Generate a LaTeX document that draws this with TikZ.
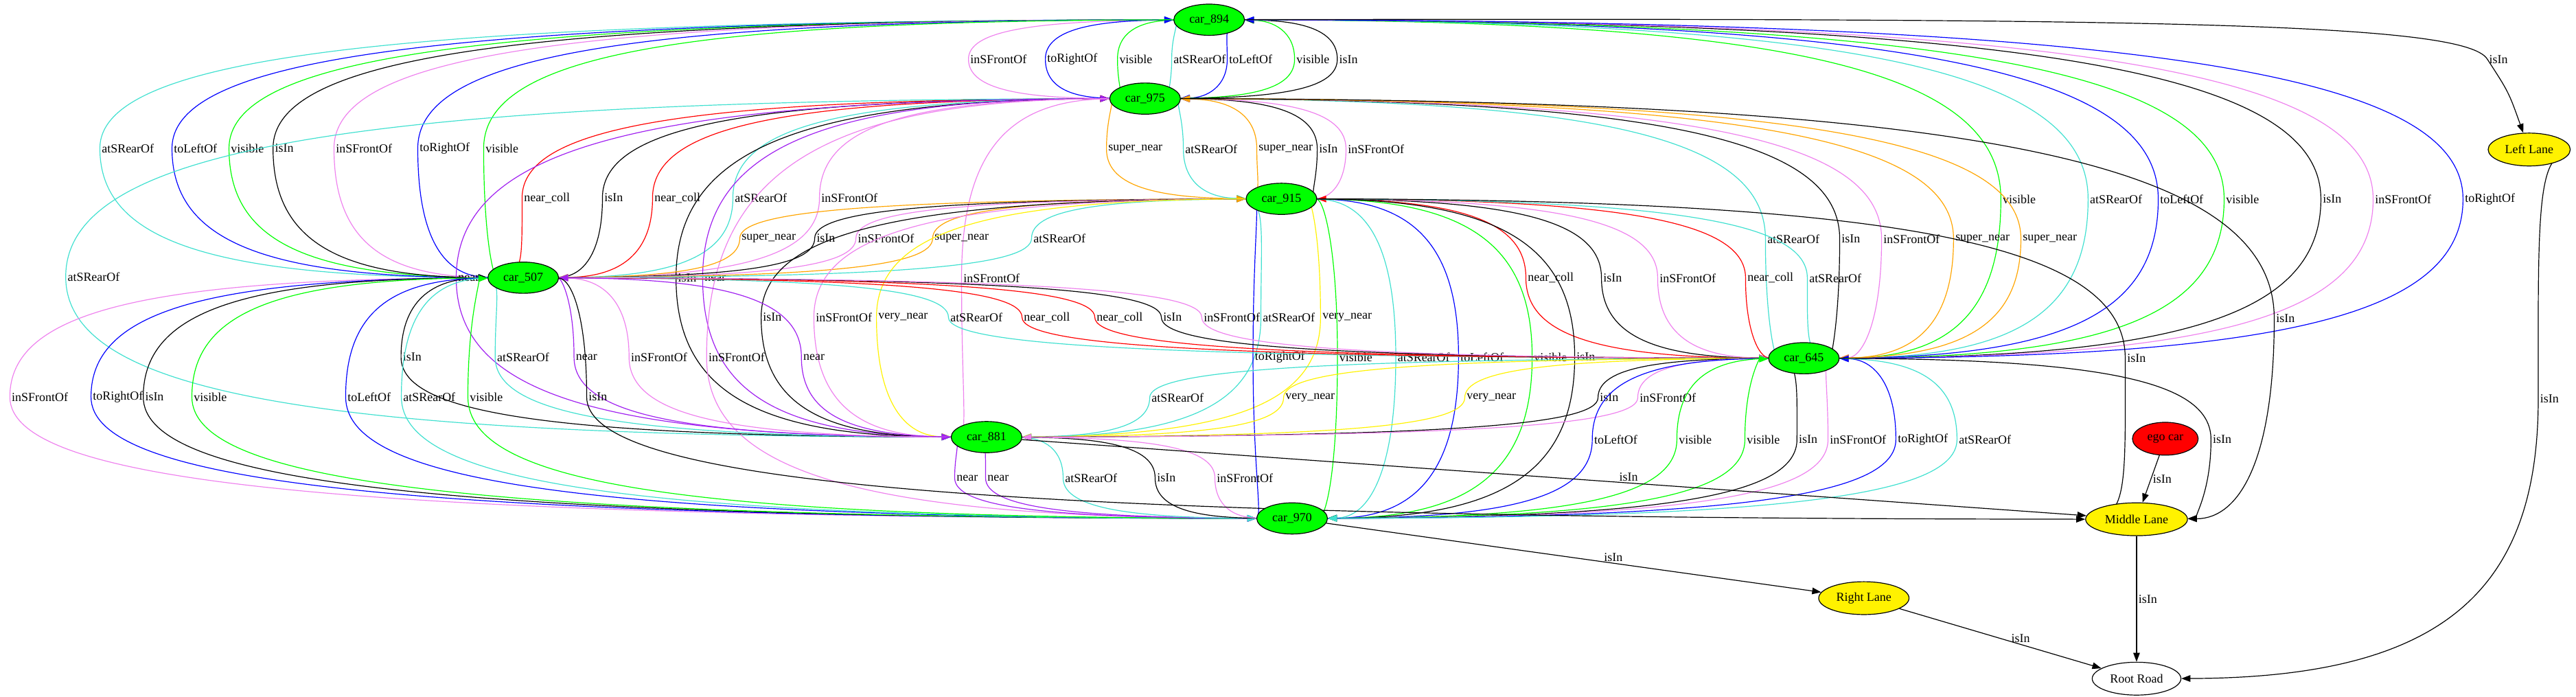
\documentclass[tikz,border=0pt]{standalone}
\usepackage{fontspec}
\setmainfont{Liberation Serif}
\usetikzlibrary{arrows.meta,calc,shapes.geometric,backgrounds}
\definecolor{tq}{HTML}{40E0D0}
\definecolor{vi}{HTML}{EE82EE}
\definecolor{pu}{HTML}{A020F0}
\definecolor{og}{HTML}{FFA500}
\newcommand\relarc[5][]{%
  \coordinate (w) at (#4);
  \draw[conn,#1] (#2) .. controls ($(#2)!0.75!(#2-|w)+(0,0.5)$) and ($(w)!0.7!(w|-#2)$) .. (w)
    .. controls ($(w)!0.7!(w|-#3)$) and ($(#3)!0.75!(#3-|w)+(0,-0.5)$) .. (#3);
  \node[lbl] at (w) {#5};}

\begin{document}
\begin{tikzpicture}[x=1pt, y=-1pt, font=\fontsize{7.5}{9}\selectfont,
  car/.style={ellipse, draw, line width=.5pt, fill=green, minimum width=43pt, minimum height=19pt, inner sep=0pt},
  lane/.style={ellipse, draw, line width=.5pt, fill=yellow, minimum height=20pt, inner sep=0pt},
  conn/.style={line width=.5pt}, lbl/.style={anchor=west, inner sep=1pt},
  fw/.style={-{Triangle[length=5.5pt,width=4pt]}}, bw/.style={{Triangle[length=5.5pt,width=4pt]}-}]
  \useasboundingbox (0,0) rectangle (1568,424);
  \node[car] (n894) at (736,12) {car\_894};
  \node[car] (n975) at (697,60) {car\_975};
  \node[car] (n915) at (780,121) {car\_915};
  \node[car] (n507) at (318.5,169) {car\_507};
  \node[car] (n645) at (1098,218) {car\_645};
  \node[car] (n881) at (600.5,266) {car\_881};
  \node[car] (n970) at (786.5,315.5) {car\_970};
  \node[lane, fill=red, minimum width=40pt] (ego) at (1318,267) {ego car};
  \node[lane, minimum width=62pt] (ml) at (1300.5,316) {Middle Lane};
  \node[lane, minimum width=50pt] (ll) at (1539.5,91) {Left Lane};
  \node[lane, minimum width=55pt] (rl) at (1134.5,364) {Right Lane};
  \node[lane, fill=white, minimum width=54pt] (rr) at (1300.5,413) {Root Road};
  \begin{scope}[on background layer]
  \relarc[vi,fw]{n894}{n975}{589.5,36}{inSFrontOf}
  \relarc[blue,bw]{n894}{n975}{636.3,36}{toRightOf}
  \relarc[green,fw]{n894}{n975}{680.2,36}{visible}
  \relarc[tq,fw]{n894}{n975}{713.2,36}{atSRearOf}
  \relarc[blue,fw]{n894}{n975}{747,36}{toLeftOf}
  \relarc[green,bw]{n894}{n975}{788,36}{visible}
  \relarc[bw]{n894}{n975}{814,36}{isIn}
  \relarc[tq,fw]{n894}{n507}{60.8,90.3}{atSRearOf}
  \relarc[blue,fw]{n894}{n507}{104.7,90.3}{toLeftOf}
  \relarc[green,bw]{n894}{n507}{139.4,90.3}{visible}
  \relarc[fw]{n894}{n507}{166.2,90.3}{isIn}
  \relarc[vi,bw]{n894}{n507}{203.3,90.3}{inSFrontOf}
  \relarc[blue,bw]{n894}{n507}{254.3,90.3}{toRightOf}
  \relarc[green,fw]{n894}{n507}{294.4,90.3}{visible}
  \relarc[green,fw]{n894}{n645}{1217.9,121.2}{visible}
  \relarc[tq,fw]{n894}{n645}{1271,121.2}{atSRearOf}
  \relarc[blue,bw]{n894}{n645}{1313.7,121.2}{toLeftOf}
  \relarc[green,fw]{n894}{n645}{1353.8,121.2}{visible}
  \relarc[fw]{n894}{n645}{1412.7,121.2}{isIn}
  \relarc[vi,fw]{n894}{n645}{1444.5,121.2}{inSFrontOf}
  \relarc[blue,fw]{n894}{n645}{1499.2,121.2}{toRightOf}
  \relarc[og,fw]{n975}{n915}{673.5,90.7}{super\_near}
  \relarc[tq,fw]{n975}{n915}{720.3,90.7}{atSRearOf}
  \relarc[og,bw]{n975}{n915}{765,90.7}{super\_near}
  \relarc[bw]{n975}{n915}{801.8,90.7}{isIn}
  \relarc[vi,bw]{n975}{n915}{819.3,90.7}{inSFrontOf}
  \relarc[red,bw]{n975}{n507}{317.8,120.4}{near\_coll}
  \relarc[bw]{n975}{n507}{366.7,120.4}{isIn}
  \relarc[red,fw]{n975}{n507}{397.2,120.4}{near\_coll}
  \relarc[tq,fw]{n975}{n507}{446.1,120.4}{atSRearOf}
  \relarc[vi,fw]{n975}{n507}{498.8,120.4}{inSFrontOf}
  \relarc[tq,fw]{n975}{n645}{1074.6,145.4}{atSRearOf}
  \relarc[fw]{n975}{n645}{1119.8,145.4}{isIn}
  \relarc[vi,fw]{n975}{n645}{1145.3,145.4}{inSFrontOf}
  \relarc[og,fw]{n975}{n645}{1189.1,145.4}{super\_near}
  \relarc[og,bw]{n975}{n645}{1230.1,145.4}{super\_near}
  \relarc[tq,fw]{n975}{n881}{40,168.4}{atSRearOf}
  \relarc[pu,fw]{n975}{n881}{277.7,169.2}{near}
  \relarc[fw]{n975}{n881}{411.5,169.2}{isIn}
  \relarc[pu,bw]{n975}{n881}{427.7,169.2}{near}
  \relarc[vi,fw]{n975}{n881}{585.3,169.2}{inSFrontOf}
  \relarc[vi,fw]{n975}{n970}{430.1,217.3}{inSFrontOf}
  \relarc[og,fw]{n915}{n507}{450.3,145}{super\_near}
  \relarc[bw]{n915}{n507}{495.9,145}{isIn}
  \relarc[vi,fw]{n915}{n507}{521,145}{inSFrontOf}
  \relarc[og,bw]{n915}{n507}{567.7,145}{super\_near}
  \relarc[tq,fw]{n915}{n507}{627.9,145}{atSRearOf}
  \relarc[red,fw]{n915}{n645}{928.8,169.2}{near\_coll}
  \relarc[fw]{n915}{n645}{974.8,169.2}{isIn}
  \relarc[vi,fw]{n915}{n645}{1009,169.2}{inSFrontOf}
  \relarc[red,bw]{n915}{n645}{1062.5,169.2}{near\_coll}
  \relarc[tq,fw]{n915}{n645}{1100.1,169.2}{atSRearOf}
  \relarc[fw]{n915}{n881}{463.3,193.1}{isIn}
  \relarc[vi,fw]{n915}{n881}{495.4,193.1}{inSFrontOf}
  \relarc[yellow,fw]{n915}{n881}{533.5,193.1}{very\_near}
  \relarc[tq,fw]{n915}{n881}{767.5,193.1}{atSRearOf}
  \relarc[yellow,bw]{n915}{n881}{803.8,193.1}{very\_near}
  \relarc[blue,bw]{n915}{n970}{762.7,217.3}{toRightOf}
  \relarc[green,fw]{n915}{n970}{814.1,217.3}{visible}
  \relarc[tq,fw]{n915}{n970}{849.6,217.3}{atSRearOf}
  \relarc[blue,fw]{n915}{n970}{887.8,217.3}{toLeftOf}
  \relarc[green,fw]{n915}{n970}{932.6,217.3}{visible}
  \relarc[fw]{n915}{n970}{958.5,217.3}{isIn}
  \relarc[tq,fw]{n507}{n645}{577.3,193.1}{atSRearOf}
  \relarc[red,fw]{n507}{n645}{622.1,193.1}{near\_coll}
  \relarc[red,bw]{n507}{n645}{666.4,193.1}{near\_coll}
  \relarc[fw]{n507}{n645}{706.9,193.1}{isIn}
  \relarc[vi,fw]{n507}{n645}{731.5,193.1}{inSFrontOf}
  \relarc[bw]{n507}{n881}{244.1,217.3}{isIn}
  \relarc[tq,fw]{n507}{n881}{301.4,217.3}{atSRearOf}
  \relarc[pu,fw]{n507}{n881}{349.4,217.3}{near}
  \relarc[vi,bw]{n507}{n881}{382.9,217.3}{inSFrontOf}
  \relarc[pu,bw]{n507}{n881}{487.8,217.3}{near}
  \relarc[vi,fw]{n507}{n970}{6,241.5}{inSFrontOf}
  \relarc[blue,fw]{n507}{n970}{55.4,241.5}{toRightOf}
  \relarc[bw]{n507}{n970}{87.2,241.5}{isIn}
  \relarc[green,fw]{n507}{n970}{116.8,241.5}{visible}
  \relarc[blue,fw]{n507}{n970}{210.4,241.5}{toLeftOf}
  \relarc[tq,fw]{n507}{n970}{244.3,241.5}{atSRearOf}
  \relarc[green,bw]{n507}{n970}{284.8,241.5}{visible}
  \relarc[tq,fw]{n645}{n881}{699.8,242}{atSRearOf}
  \relarc[yellow,fw]{n645}{n881}{781.3,242}{very\_near}
  \relarc[yellow,fw]{n645}{n881}{891.6,242}{very\_near}
  \relarc[bw]{n645}{n881}{972.7,242}{isIn}
  \relarc[vi,bw]{n645}{n881}{996.9,242}{inSFrontOf}
  \relarc[blue,fw]{n645}{n970}{969.2,267.4}{toLeftOf}
  \relarc[green,fw]{n645}{n970}{1020.7,267.4}{visible}
  \relarc[green,bw]{n645}{n970}{1062.1,267.4}{visible}
  \relarc[bw]{n645}{n970}{1093.8,267.4}{isIn}
  \relarc[vi,bw]{n645}{n970}{1112.7,267.4}{inSFrontOf}
  \relarc[blue,bw]{n645}{n970}{1154,267.4}{toRightOf}
  \relarc[tq,fw]{n645}{n970}{1191.2,267.4}{atSRearOf}
  \relarc[pu,fw]{n881}{n970}{581.1,290.8}{near}
  \relarc[pu,bw]{n881}{n970}{599.9,290.8}{near}
  \relarc[tq,fw]{n881}{n970}{647.1,290.8}{atSRearOf}
  \relarc[bw]{n881}{n970}{703.1,290.8}{isIn}
  \relarc[vi,bw]{n881}{n970}{739.5,290.8}{inSFrontOf}
  \relarc[fw]{ll}{rr}{1545,242.8}{isIn}
  \relarc[fw]{n975}{ml}{1384.3,193.9}{isIn}
  \relarc[fw]{n915}{ml}{1293.6,218.1}{isIn}
  \relarc[fw]{n645}{ml}{1345.8,267.4}{isIn}
  \relarc[fw]{n507}{ml}{357.1,241.5}{isIn}
  \coordinate (llw) at (1514,36);
  \draw[conn,fw] (n894) .. controls (1300,11) and (1500,13) .. (llw) .. controls (1527,56) .. (ll);
  \node[lbl] at (llw) {isIn};
  \draw[conn,fw] (n881) -- node[lbl, pos=.57, above] {isIn} (ml);
  \draw[conn,fw] (ego) -- node[lbl, right] {isIn} (ml);
  \draw[conn,fw] (ml) -- node[lbl, right] {isIn} (rr);
  \draw[conn,fw] (rl) -- node[lbl, pos=.6, above] {isIn} (rr);
  \draw[conn,fw] (n970) -- node[lbl, pos=.58, above] {isIn} (rl);
  \end{scope}
\end{tikzpicture}
\end{document}
